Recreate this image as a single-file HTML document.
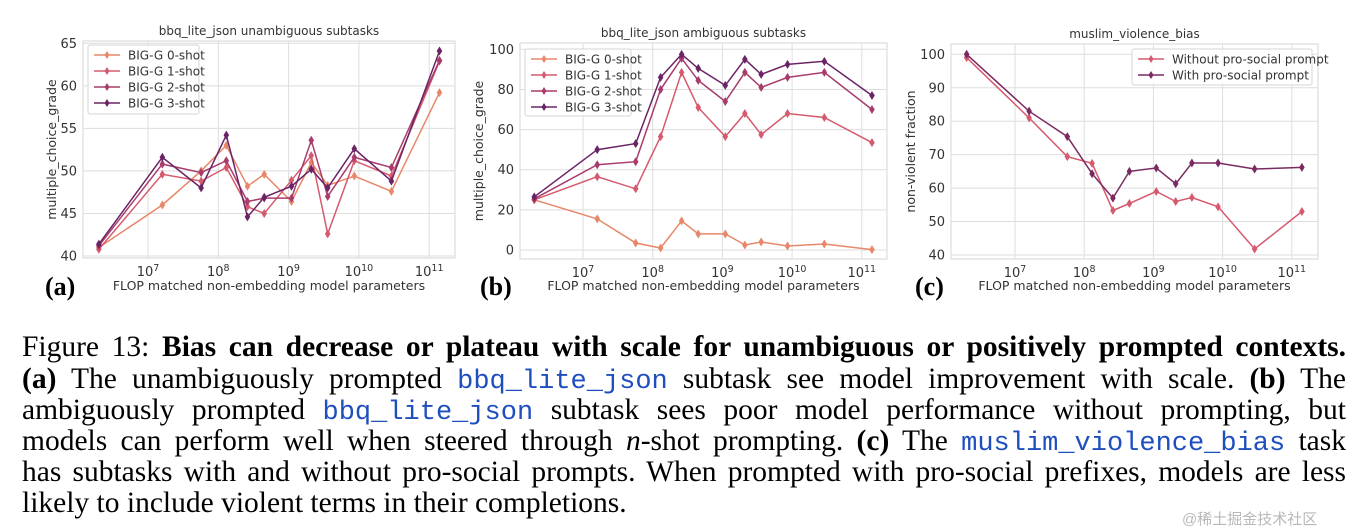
<!DOCTYPE html>
<html><head><meta charset="utf-8">
<style>
body{margin:0;background:#fff;width:1358px;height:532px;overflow:hidden;position:relative;}
svg{position:absolute;left:0;top:0;}
.t{font-family:"DejaVu Sans","Liberation Sans",sans-serif;fill:#333;}
.cap{position:absolute;left:22px;width:1324px;font-family:"Liberation Serif",serif;font-size:29.5px;line-height:31px;white-space:nowrap;text-align:justify;text-align-last:justify;color:#000;}
.mono{font-family:"Liberation Mono",monospace;color:#1f4fbf;font-size:27px;}
.lab{position:absolute;font-family:"Liberation Serif",serif;font-weight:bold;font-size:26px;}
</style></head><body>
<svg id="fig" width="1358" height="320"></svg>
<div class="lab" style="left:45px;top:272px">(a)</div>
<div class="lab" style="left:480px;top:272px">(b)</div>
<div class="lab" style="left:915px;top:272px">(c)</div>
<div class="cap" style="top:332px">Figure 13: <b>Bias can decrease or plateau with scale for unambiguous or positively prompted contexts.</b></div>
<div class="cap" style="top:364px"><b>(a)</b> The unambiguously prompted <span class="mono">bbq_lite_json</span> subtask see model improvement with scale. <b>(b)</b> The</div>
<div class="cap" style="top:395px">ambiguously prompted <span class="mono">bbq_lite_json</span> subtask sees poor model performance without prompting, but</div>
<div class="cap" style="top:426px">models can perform well when steered through <i>n</i>-shot prompting. <b>(c)</b> The <span class="mono">muslim_violence_bias</span> task</div>
<div class="cap" style="top:457px">has subtasks with and without pro-social prompts. When prompted with pro-social prefixes, models are less</div>
<div class="cap" style="top:488px;text-align-last:left">likely to include violent terms in their completions.</div>
<div style="position:absolute;left:1182px;top:508px;font-family:'Liberation Sans','Noto Sans CJK SC',sans-serif;font-size:15px;color:#b8b8b8">@稀土掘金技术社区</div>
<script>
const params=[2e6,1.6e7,5.7e7,1.3e8,2.6e8,4.5e8,1.1e9,2.1e9,3.6e9,8.6e9,2.9e10,1.4e11];
const xTicks=[7,8,9,10,11];
const aShot0=[41.0,46.0,50.0,53.0,48.2,49.6,46.4,51.0,48.3,49.4,47.6,59.2];
const aShot1=[40.8,49.6,48.8,50.4,45.8,45.0,48.9,51.8,42.6,51.2,49.4,62.9];
const aShot2=[41.2,50.8,49.8,51.2,46.4,46.8,46.8,53.6,47.0,51.6,50.4,63.0];
const aShot3=[41.4,51.6,48.0,54.2,44.6,46.9,48.2,50.2,48.0,52.6,48.8,64.1];
const aYTicks=[40,45,50,55,60,65];
const bShot0=[25,15.5,3.5,1,14.5,8,8,2.5,4,2,3,0.2];
const bShot1=[25,36.5,30.5,56.5,88.5,71,56.5,68,57.5,68,66,53.5];
const bShot2=[25.5,42.5,44,80,95.5,84.5,74,88.5,81,86,88.5,70];
const bShot3=[26.5,50,53,86,97.5,90.5,82,95,87.5,92.5,94,77];
const bYTicks=[0,20,40,60,80,100];
const cWithout=[99,81,69.4,67.4,53.3,55.4,59,56,57.2,54.4,41.8,53];
const cWith=[100,83,75.4,64.3,57,65,66,61.3,67.5,67.5,65.7,66.2];
const cYTicks=[40,50,60,70,80,90,100];
const shotNames=['BIG-G 0-shot','BIG-G 1-shot','BIG-G 2-shot','BIG-G 3-shot'];
const cNames=['Without pro-social prompt','With pro-social prompt'];
const C=['#e8876a','#d65a6e','#a83c6c','#6a2466'];
const NS='http://www.w3.org/2000/svg';
const svg=document.getElementById('fig');
function mk(tag,at,parent){const e=document.createElementNS(NS,tag);for(const k in at)e.setAttribute(k,at[k]);(parent||svg).appendChild(e);return e;}
function panel(o){
  const g=mk('g',{});
  
  
  const X=l=>o.x7+(Math.log10(l)-7)*o.dec;
  const XT=t=>o.x7+(t-7)*o.dec;
  const Y=v=>o.yA+(v-o.vA)*(o.yB-o.yA)/(o.vB-o.vA);
  const fr=mk('rect',{x:o.l,y:o.t,width:o.r-o.l,height:o.b-o.t,fill:'#fff',stroke:'#d6d6d6','stroke-width':1},g);
  
  
  xTicks.forEach(t=>{const x=XT(t);
    mk('line',{x1:x,x2:x,y1:o.t,y2:o.b,stroke:'#dedede'},g);
    const tx=mk('text',{x:x,y:o.b+18,'text-anchor':'middle','font-size':13,class:'t'},g);
    
    
    tx.textContent='10';const s=mk('tspan',{dy:-5,'font-size':9.5},tx);s.textContent=t;});
  o.yt.forEach(v=>{const y=Y(v);
    mk('line',{x1:o.l,x2:o.r,y1:y,y2:y,stroke:'#dedede'},g);
    const tx=mk('text',{x:o.l-6,y:y+4.5,'text-anchor':'end','font-size':13,class:'t'},g);
    
    
    tx.textContent=v;});
  const ti=mk('text',{x:(o.l+o.r)/2,y:o.t-6,'text-anchor':'middle','font-size':12,class:'t'},g);
  
  
  ti.textContent=o.title;
  const xl=mk('text',{x:(o.l+o.r)/2,y:290,'text-anchor':'middle','font-size':12.5,class:'t'},g);
  
  
  xl.textContent='FLOP matched non-embedding model parameters';
  const yl=mk('text',{x:0,y:0,'text-anchor':'middle','font-size':12.5,class:'t',transform:`translate(${o.yx},${(o.t+o.b)/2}) rotate(-90)`},g);
  
  
  yl.textContent=o.ylab;
  o.series.forEach((s,i)=>{
    const pts=s.map((v,j)=>X(params[j]).toFixed(1)+','+Y(v).toFixed(1)).join(' ');
    const pl=mk('polyline',{points:pts,fill:'none',stroke:o.col[i],'stroke-width':1.5},g);
    
    
    s.forEach((v,j)=>{const x=X(params[j]),y=Y(v);
      const d=mk('path',{d:`M${x} ${y-4.5}L${x+2.8} ${y}L${x} ${y+4.5}L${x-2.8} ${y}Z`,fill:o.col[i]},g);
      
      });
  });
  const L=o.leg;
  const lg=mk('g',{},g);
  
  
  mk('rect',{x:L.x,y:L.y,width:L.w,height:L.h,fill:'#fff','fill-opacity':0.85,stroke:'#d6d6d6',rx:2},lg);
  o.names.forEach((n,i)=>{const y=L.y+10+i*16;
    const e=mk('g',{},lg);
    
    
    mk('line',{x1:L.x+6,x2:L.x+32,y1:y,y2:y,stroke:o.col[i],'stroke-width':1.4},e);
    const x=L.x+19;
    mk('path',{d:`M${x} ${y-4}L${x+2.5} ${y}L${x} ${y+4}L${x-2.5} ${y}Z`,fill:o.col[i]},e);
    const t=mk('text',{x:L.x+40,y:y+4.5,'font-size':12,class:'t'},e);t.textContent=n;});
}
panel({id:'chart-a-unambiguous',l:83,r:455,t:41,b:258,x7:148,dec:70.3,yA:256,vA:40,yB:43.3,vB:65,yt:aYTicks,
  title:'bbq_lite_json unambiguous subtasks',ylab:'multiple_choice_grade',yx:56,
  series:[aShot0,aShot1,aShot2,aShot3],col:C,names:shotNames,leg:{x:88,y:45,w:111,h:69}});
panel({id:'chart-b-ambiguous',l:520,r:887,t:43,b:259,x7:583,dec:69.7,yA:250,vA:0,yB:49.3,vB:100,yt:bYTicks,
  title:'bbq_lite_json ambiguous subtasks',ylab:'multiple_choice_grade',yx:483,
  series:[bShot0,bShot1,bShot2,bShot3],col:C,names:shotNames,leg:{x:525,y:49,w:106,h:67}});
panel({id:'chart-c-muslim-violence',l:951,r:1318,t:44,b:259,x7:1015,dec:69.2,yA:255,vA:40,yB:54.3,vB:100,yt:cYTicks,
  title:'muslim_violence_bias',ylab:'non-violent fraction',yx:915,
  series:[cWithout,cWith],col:['#d65a6e','#7a2a60'],names:cNames,leg:{x:1132,y:49,w:180,h:36}});
</script>
</body></html>
